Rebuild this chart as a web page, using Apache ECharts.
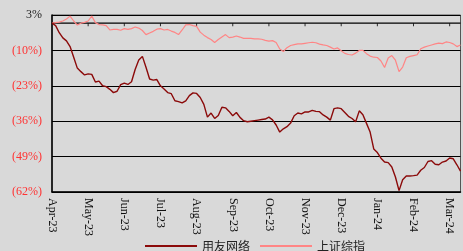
<!DOCTYPE html>
<html>
<head>
<meta charset="utf-8">
<script src="https://cdn.jsdelivr.net/npm/echarts@6/dist/echarts.min.js"></script>
<style>
html,body{margin:0;padding:0;background:#d9d9d9;}
#chart{width:463px;height:251px;}
</style>
</head>
<body>
<div id="chart"></div>
<script>
// month labels, one every 10 points
var months = ['Apr-23','May-23','Jun-23','Jul-23','Aug-23','Sep-23','Oct-23','Nov-23','Dec-23','Jan-24','Feb-24','Mar-24'];
var yTicks = [3, -10, -23, -36, -49, -62];

// 用友网络, cumulative return %
var yonyou = [0,-0.9,-3.5,-5.4,-6.5,-8.6,-12.5,-16.5,-17.8,-19.0,
	-18.6,-18.8,-21.6,-21.3,-23.0,-23.3,-24.3,-25.5,-25.0,-22.6,
	-22.0,-22.5,-21.5,-17.0,-13.5,-12.2,-16.2,-20.5,-20.9,-20.7,
	-23.0,-24.2,-25.5,-25.9,-28.5,-28.8,-29.3,-28.5,-26.6,-25.6,
	-25.8,-27.3,-29.8,-34.5,-33.0,-35.0,-33.9,-30.9,-31.1,-32.4,
	-34.0,-32.8,-34.6,-35.8,-36.2,-36.0,-35.8,-35.6,-35.4,-35.2,
	-34.5,-35.5,-37.4,-40.0,-38.8,-38.0,-36.7,-34.0,-33.0,-33.3,
	-32.6,-32.6,-32.0,-32.4,-32.5,-33.7,-34.5,-35.6,-31.4,-31.1,
	-31.4,-32.8,-34.2,-35.0,-36.2,-32.2,-33.6,-36.8,-40.0,-46.2,
	-47.5,-49.6,-51.0,-51.2,-52.8,-56.5,-61.5,-57.5,-56.1,-56.1,
	-56.0,-55.8,-54.0,-53.0,-50.8,-50.5,-51.8,-52.0,-51.0,-50.6,
	-49.5,-49.8,-52.0,-54.3];

// 上证综指, cumulative return %
var shIndex = [0,0.2,0.4,0.8,1.5,2.6,0.8,-0.7,0,0.3,
	0.8,2.6,0.2,-0.5,-0.6,-0.9,-2.5,-2.3,-2.3,-2.6,
	-2.0,-2.3,-2.0,-1.4,-1.8,-2.7,-4.2,-3.6,-3.0,-2.2,
	-2.0,-2.5,-2.3,-2.9,-3.4,-4.2,-2.5,-0.6,-0.5,-0.9,
	-1.2,-3.3,-4.4,-5.3,-6.0,-7.1,-6.0,-5.1,-4.2,-5.3,
	-5.1,-4.7,-5.1,-5.6,-5.6,-5.6,-5.8,-5.8,-5.9,-6.3,
	-6.6,-6.4,-7.1,-9.5,-10.4,-9.0,-8.2,-7.9,-7.6,-7.6,
	-7.4,-7.2,-7.0,-7.2,-7.7,-8.0,-8.2,-8.8,-9.5,-9.1,
	-10.1,-11.1,-11.5,-11.7,-11.0,-10.0,-10.0,-11.2,-12.1,-12.5,
	-12.6,-13.9,-16.3,-12.8,-11.9,-13.6,-17.8,-16.1,-12.7,-12.2,
	-11.9,-11.6,-9.4,-8.8,-8.4,-8.0,-7.6,-7.3,-7.5,-6.9,
	-7.1,-7.6,-8.6,-8.0];

function pairs(arr){
	var out=[];
	for(var i=0;i<arr.length;i++){
		out.push([i,arr[i]]);
	}
	return out;
}

function pct(v){
	var n=Math.round(v);
	return n<0 ? '('+(-n)+'%)' : n+'%';
}

// month ticks sitting on the 0% line
function monthTicks(){
	var out=[];
	for(var k=1;k<months.length;k++){
		out.push([k*10,0]);
	}
	return out;
}

var yMin=yTicks[yTicks.length-1], yMax=yTicks[0], yStep=yTicks[0]-yTicks[1];
var last=yonyou.length-1;
var serif='Liberation Serif';

var el = echarts.init(document.getElementById('chart'));
var opt = {
	backgroundColor:'#d9d9d9',
	animation:false,
	grid:{left:52,right:2.5,top:15,bottom:59,show:true,borderColor:'#555',borderWidth:1},
	legend:{
		left:140,top:235,itemWidth:52,itemHeight:2,itemGap:10,icon:'rect',
		textStyle:{fontFamily:'Noto Sans CJK SC',fontSize:12,color:'#222'},
		data:['用友网络','上证综指']
	},
	xAxis:{
		type:'value',min:0,max:last,interval:10,
		axisLine:{onZero:false,lineStyle:{color:'#000',width:1.5}},
		axisTick:{show:false},
		splitLine:{show:false},
		axisLabel:{
			rotate:-90,margin:6,fontFamily:serif,fontSize:12,color:'#111',showMaxLabel:false,
			formatter:function(v){ return v%10===0 ? (months[v/10]||'') : ''; }
		}
	},
	yAxis:[{
		type:'value',min:0,max:yMax-yMin,interval:yStep,
		axisLine:{show:true,onZero:false,lineStyle:{color:'#000',width:1.5}},
		axisTick:{show:false},
		splitLine:{lineStyle:{color:'#000',width:1}},
		axisLabel:{
			margin:10,fontFamily:serif,fontSize:12,
			formatter:function(v){ return pct(v+yMin); },
			color:function(v){ return (Number(v)+yMin)<0 ? '#ff3333' : '#222'; }
		}
	},{
		type:'value',min:yMin,max:yMax,show:false
	}],
	series:[{
		name:'zero',type:'line',yAxisIndex:1,symbol:'none',silent:true,z:5,
		lineStyle:{color:'#000',width:1.3},
		data:[[0,0],[last,0]]
	},{
		name:'ticks',type:'scatter',yAxisIndex:1,silent:true,z:5,
		symbol:'rect',symbolSize:[1,3],symbolOffset:[0,1.5],
		itemStyle:{color:'#000'},
		data:monthTicks()
	},{
		name:'用友网络',type:'line',yAxisIndex:1,symbol:'none',z:7,
		lineStyle:{color:'#8b0a0a',width:1.4},itemStyle:{color:'#8b0a0a'},
		data:pairs(yonyou)
	},{
		name:'上证综指',type:'line',yAxisIndex:1,symbol:'none',z:6,
		lineStyle:{color:'#ff8585',width:1.2},itemStyle:{color:'#ff8585'},
		data:pairs(shIndex)
	}]
};
el.setOption(opt);
</script>
</body>
</html>
